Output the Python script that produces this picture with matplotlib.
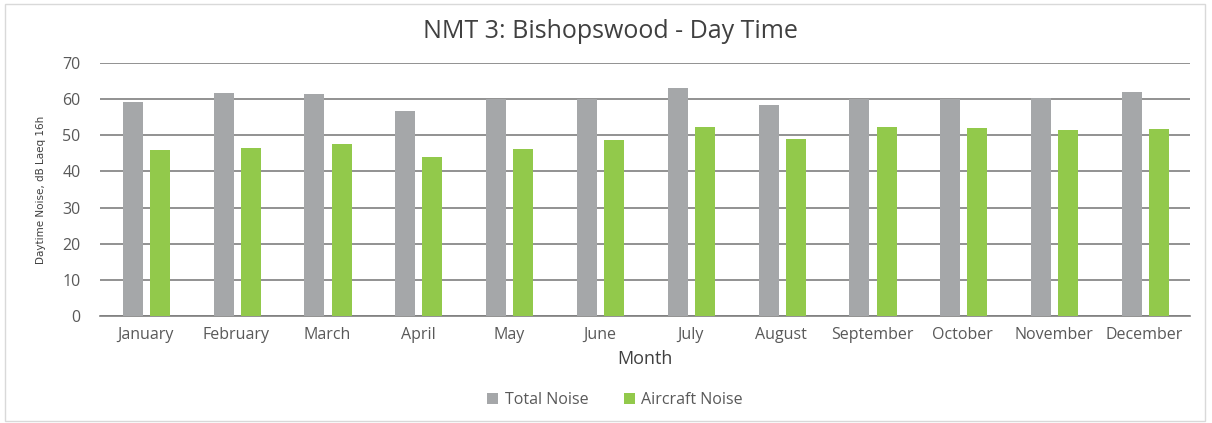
import matplotlib
matplotlib.use('Agg')
import matplotlib.pyplot as plt
import numpy as np
from matplotlib.patches import Rectangle

months = ['January', 'February', 'March', 'April', 'May', 'June',
          'July', 'August', 'September', 'October', 'November', 'December']
total_noise = [59.1, 61.8, 61.4, 56.8, 60.0, 60.0, 63.1, 58.4, 60.1, 60.1, 60.4, 62.0]
aircraft_noise = [45.9, 46.4, 47.7, 44.0, 46.1, 48.6, 52.4, 49.1, 52.4, 52.1, 51.4, 51.8]

plt.rcParams['font.family'] = ['Open Sans', 'DejaVu Sans']

fig = plt.figure(figsize=(12.12, 4.23), dpi=100)
ax = fig.add_axes([100 / 1212, 1 - 316 / 423, 1090 / 1212, 253 / 423])

# outer chart border
fig.patches.append(Rectangle((5 / 1212, 2 / 423), 1200 / 1212, 417 / 423,
                             transform=fig.transFigure, fill=False,
                             edgecolor='#d9d9d9', linewidth=1))

x = np.arange(len(months))
w = 0.22
off = 0.149
ax.bar(x - off + 0.01, total_noise, w, color='#a5a7a9', label='Total Noise', zorder=3)
ax.bar(x + off + 0.01, aircraft_noise, w, color='#92c94b', label='Aircraft Noise', zorder=3)

ax.set_xlim(-0.5, len(months) - 0.5)
ax.set_ylim(0, 70)
ax.set_yticks(range(0, 71, 10))
ax.grid(axis='y', color='#7f7f7f', linewidth=1.2, zorder=0)
for s in ['top', 'right', 'left']:
    ax.spines[s].set_visible(False)
ax.spines['bottom'].set_color('#7f7f7f')
ax.spines['bottom'].set_linewidth(1.2)
ax.tick_params(axis='both', length=0, colors='#595959', labelsize=11.5)
ax.tick_params(axis='y', pad=14)
ax.tick_params(axis='x', pad=8)
ax.set_xticks(x)
ax.set_xticklabels(months)

ax.set_ylabel('Daytime Noise, dB Laeq 16h', fontsize=7.5, color='#404040',
              family=['Liberation Sans Narrow', 'DejaVu Sans'], labelpad=12)
ax.set_xlabel('Month', fontsize=13, color='#404040', labelpad=5)
fig.text(610 / 1212, 1 - 31 / 423, 'NMT 3: Bishopswood - Day Time',
         ha='center', va='center', fontsize=18, color='#404040')

fig.legend(loc='center', bbox_to_anchor=(615 / 1212, 1 - 400 / 423), ncol=2,
           frameon=False, fontsize=11.5, labelcolor='#595959',
           handlelength=0.7, handleheight=0.7, handletextpad=0.4, columnspacing=2.2)

fig.savefig('out.png', dpi=100, facecolor='white')
